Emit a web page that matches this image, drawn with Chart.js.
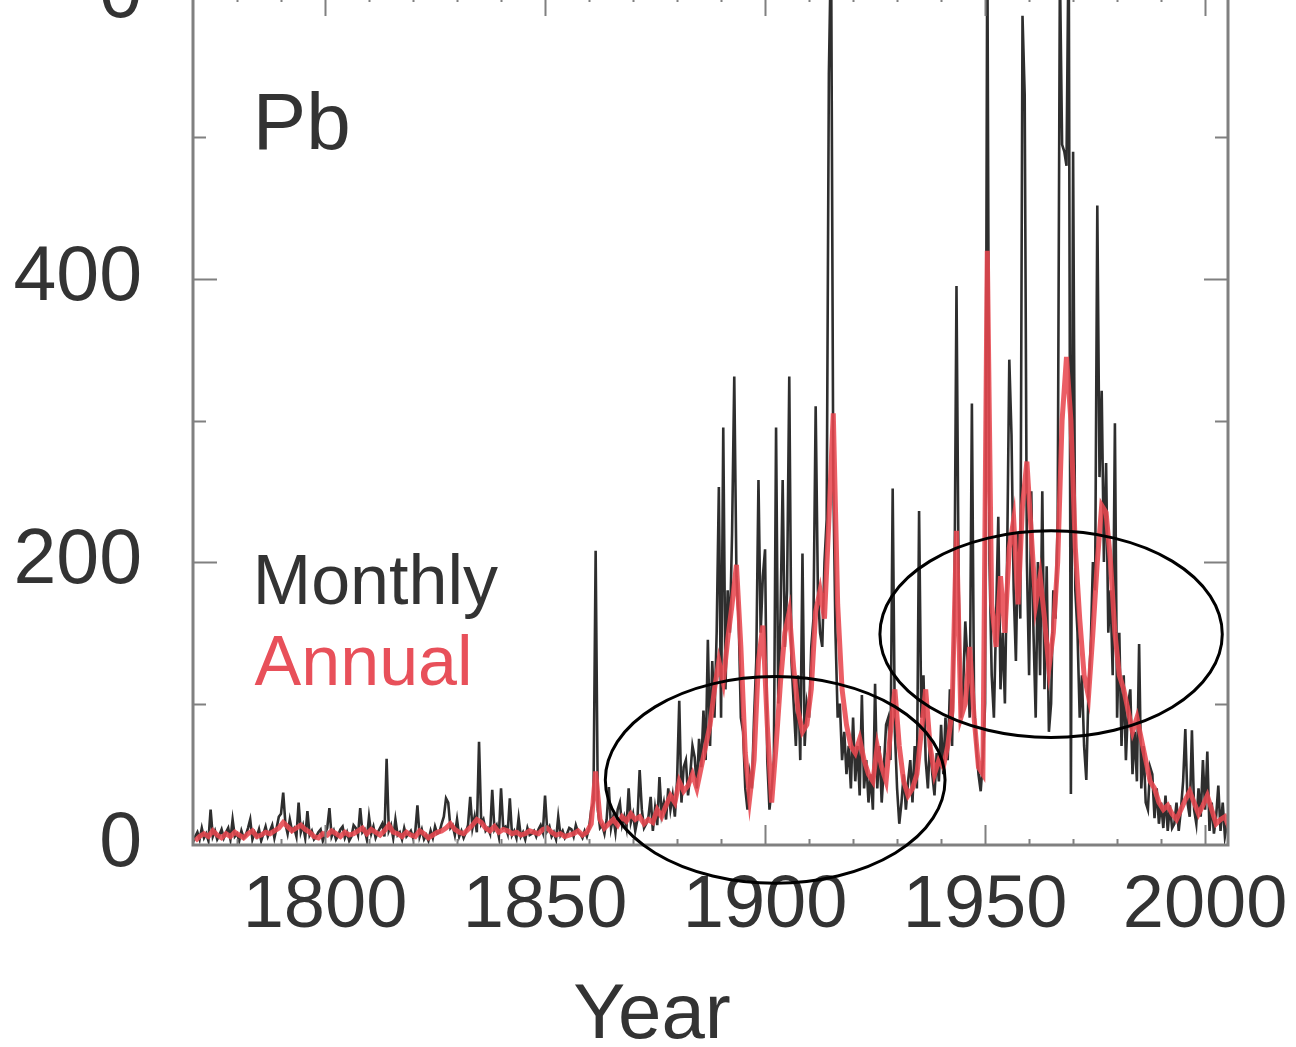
<!DOCTYPE html>
<html>
<head>
<meta charset="utf-8">
<title>Pb</title>
<script src="https://cdn.jsdelivr.net/npm/chart.js@4.4.1/dist/chart.umd.min.js"></script>
<style>
  html, body { margin: 0; padding: 0; background: #fff; overflow: hidden; }
  #wrap { position: absolute; left: 0; top: -60px; width: 1296px; height: 1107px; }
</style>
</head>
<body>
<div id="wrap"><canvas id="pbChart"></canvas></div>
<script>
// axis ticks
const xTicks = [1800, 1850, 1900, 1950, 2000];
const yTicks = [0, 200, 400, 600];

// monthly series, one value every half year from 1770.0
const monthlyStart = 1770;
const monthlyStep = 0.5;
const monthlyPb = [
  2,6, 9,4, 12,5, 8,3, 25,6, 10,4, 7,11, 5,9, 12,4, 18,6,            // 1770s
  8,3, 10,5, 7,12, 18,4, 9,6, 11,3, 8,13, 6,10, 14,5, 12,20,          // 1780s
  22,37, 15,8, 18,10, 12,6, 30,9, 14,5, 24,7, 10,4, 6,9, 11,3,        // 1790s
  8,12, 26,6, 10,4, 7,11, 13,5, 9,3, 6,14, 12,7, 26,9, 11,4,          // 1800s
  20,8, 13,5, 9,12, 15,6, 61,10, 14,5, 18,7, 9,4, 12,6, 8,10,         // 1810s
  5,9, 28,6, 11,4, 7,3, 10,5, 13,8, 9,15, 20,33, 30,12, 14,7,         // 1820s
  18,6, 10,5, 9,14, 34,12, 20,9, 73,15, 18,10, 12,8, 39,11, 14,6,     // 1830s
  40,12, 13,8, 33,7, 10,5, 19,6, 9,4, 12,7, 8,10, 6,11, 14,9,         // 1840s
  35,10, 13,6, 9,4, 20,7, 10,5, 8,12, 11,6, 14,9, 8,5, 10,6,          // 1850s
  12,25, 30,208, 25,12, 14,8, 18,41, 12,20, 9,25, 30,14, 20,12, 40,16, // 1860s
  22,10, 18,53, 25,12, 15,20, 34,10, 26,14, 48,22, 30,18, 40,25, 35,20, // 1870s
  45,102, 30,55, 60,35, 50,70, 62,40, 75,55, 95,60, 145,70, 130,90, 150,253, // 1880s
  90,295, 110,180, 150,220, 331,190, 160,90, 80,40, 25,50, 40,90, 130,258, 150,190, // 1890s
  209,60, 25,40, 60,295, 100,160, 258,140, 180,331, 130,100, 70,120, 60,206, 70,100, // 1900s
  90,140, 160,310, 180,150, 140,200, 230,545, 640,260, 150,90, 100,60, 80,50, 70,40, // 1910s
  90,45, 70,35, 106,40, 60,30, 50,25, 114,40, 70,30, 55,85, 90,60, 252,80,   // 1920s
  40,15, 30,50, 25,45, 60,30, 70,40, 236,90, 120,60, 40,75, 50,35, 65,45,    // 1930s
  85,50, 90,60, 110,70, 160,395, 180,90, 110,158, 130,90, 312,100, 70,50, 38,60, // 1940s
  100,650, 200,120, 90,160, 232,110, 150,100, 200,343, 290,180, 130,220, 160,586, 530,200, // 1950s
  120,250, 150,90, 200,120, 250,110, 197,80, 100,180, 160,230, 620,495, 490,480, 650,36, // 1960s
  490,180, 150,90, 120,70, 46,110, 140,200, 180,452, 260,321, 200,270, 150,180, 120,298, // 1970s
  90,150, 70,120, 60,100, 110,50, 80,45, 142,40, 70,30, 25,55, 50,19, 40,15, // 1980s
  30,12, 35,10, 28,12, 15,30, 10,25, 45,82, 30,20, 81,25, 15,40, 20,60,      // 1990s
  25,66, 10,30, 8,20, 42,10, 30,6, 15                                        // 2000s
];

// annual means, plotted at mid-year from 1770.5
const annualStart = 1770.5;
const annualPb = [
  3,6,8,6,10,7,5,8,6,9,              // 1770s
  7,5,8,10,6,7,9,8,10,12,            // 1780s
  16,13,10,12,14,11,9,6,5,8,         // 1790s
  7,10,8,6,9,7,8,10,12,8,            // 1800s
  11,9,7,10,14,9,8,6,9,7,            // 1810s
  6,10,8,5,7,9,10,12,15,11,          // 1820s
  9,8,11,14,18,16,12,10,13,9,        // 1830s
  11,10,8,9,7,8,10,9,8,11,           // 1840s
  12,9,7,8,6,7,8,10,7,9,             // 1850s
  15,52,18,12,15,18,14,20,17,22,     // 1860s
  18,20,15,18,16,25,20,28,35,30,     // 1870s
  45,38,42,50,40,55,70,85,110,130,   // 1880s
  115,145,170,198,140,65,33,60,130,155, // 1890s
  85,30,70,115,150,165,125,95,80,85, // 1900s
  110,165,180,160,230,305,170,110,85,70, // 1910s
  65,75,60,50,45,70,55,45,80,110,    // 1920s
  70,45,35,40,50,80,110,70,50,60,    // 1930s
  55,70,95,222,90,100,140,90,55,50,  // 1940s
  420,170,140,190,150,210,230,170,240,271, // 1950s
  220,170,190,160,125,150,200,300,345,300, // 1960s
  210,160,120,105,150,200,240,235,200,150, // 1970s
  120,110,95,80,90,75,60,45,40,30,   // 1980s
  25,28,22,18,25,32,38,30,22,28,     // 1990s
  35,25,15,18,20,12                  // 2000s
];

// circled regions (centre year, centre value, half width in years, half height in value)
const circled = [
  { x: 1902.3, y: 46, rx: 38.6, ry: 73 },
  { x: 1965.0, y: 149, rx: 38.9, ry: 73 }
];

const fontFam = '"Liberation Sans", Arial, Helvetica, sans-serif';

const monthlyPts = monthlyPb.map((v, i) => ({ x: monthlyStart + i * monthlyStep, y: v }));
const annualPts = annualPb.map((v, i) => ({ x: annualStart + i, y: v }));

// frame, inward ticks, ellipses and in-plot labels
const decorPlugin = {
  id: 'decor',
  afterDatasetsDraw(chart) {
    const { ctx, chartArea: a } = chart;
    const xs = chart.scales.x, ys = chart.scales.y;
    ctx.save();

    ctx.strokeStyle = '#808080';
    ctx.lineWidth = 2;
    ctx.beginPath();
    for (let yr = 1780; yr <= 2000; yr += 10) {
      const px = Math.round(xs.getPixelForValue(yr)) + 0.5;
      const len = yr % 50 === 0 ? 20 : 6;
      ctx.moveTo(px, a.bottom); ctx.lineTo(px, a.bottom - len);
      ctx.moveTo(px, a.top); ctx.lineTo(px, a.top + len);
    }
    for (let v = 100; v < 600; v += 100) {
      const py = Math.round(ys.getPixelForValue(v)) + 0.5;
      const len = v % 200 === 0 ? 24 : 13;
      ctx.moveTo(a.left, py); ctx.lineTo(a.left + len, py);
      ctx.moveTo(a.right, py); ctx.lineTo(a.right - len, py);
    }
    ctx.stroke();

    ctx.lineWidth = 3;
    ctx.strokeRect(a.left, a.top, a.right - a.left, a.bottom - a.top);

    ctx.strokeStyle = '#000';
    ctx.lineWidth = 3;
    circled.forEach(c => {
      const cx = xs.getPixelForValue(c.x), cy = ys.getPixelForValue(c.y);
      const rx = xs.getPixelForValue(c.x + c.rx) - cx;
      const ry = cy - ys.getPixelForValue(c.y + c.ry);
      ctx.beginPath();
      ctx.ellipse(cx, cy, rx, ry, 0, 0, Math.PI * 2);
      ctx.stroke();
    });

    ctx.textAlign = 'left';
    ctx.textBaseline = 'alphabetic';
    ctx.fillStyle = '#333';
    ctx.font = '80px ' + fontFam;
    ctx.fillText('Pb', xs.getPixelForValue(1783.6), ys.getPixelForValue(492));
    ctx.font = '70px ' + fontFam;
    ctx.fillText('Monthly', xs.getPixelForValue(1783.6), ys.getPixelForValue(170));
    ctx.fillStyle = '#e8505a';
    ctx.fillText('Annual', xs.getPixelForValue(1784), ys.getPixelForValue(113));

    // axis title, set left of the plot centre as in the source figure
    ctx.fillStyle = '#333';
    ctx.textAlign = 'center';
    ctx.font = '78px ' + fontFam;
    ctx.fillText('Year', xs.getPixelForValue(1874.3), a.bottom + 193);
    ctx.restore();
  }
};

const ctx = document.getElementById('pbChart').getContext('2d');
const pbChart = new Chart(ctx, {
  type: 'line',
  data: {
    datasets: [
      {
        label: 'Annual',
        data: annualPts,
        borderColor: 'rgba(232, 72, 80, 0.88)',
        borderWidth: 5,
        pointRadius: 0,
        tension: 0
      },
      {
        label: 'Monthly',
        data: monthlyPts,
        borderColor: '#2e2e2e',
        borderWidth: 2.6,
        pointRadius: 0,
        tension: 0
      }
    ]
  },
  options: {
    responsive: true,
    maintainAspectRatio: false,
    devicePixelRatio: 1,
    animation: false,
    events: [],
    layout: { padding: { top: 56, right: 68, left: 0, bottom: 0 } },
    plugins: { legend: { display: false }, tooltip: { enabled: false } },
    scales: {
      x: {
        type: 'linear',
        min: 1770,
        max: 2005.2,
        grid: { display: false, drawTicks: false },
        border: { display: false },
        afterBuildTicks: s => { s.ticks = xTicks.map(v => ({ value: v })); },
        afterFit: s => { s.height = 202; s.paddingLeft = 0; s.paddingRight = 0; },
        ticks: {
          padding: 25,
          color: '#333',
          maxRotation: 0,
          autoSkip: false,
          font: { family: fontFam, size: 74, lineHeight: 1 },
          callback: v => String(v)
        }
      },
      y: {
        min: 0,
        max: 600,
        grid: { display: false, drawTicks: false },
        border: { display: false },
        afterBuildTicks: s => { s.ticks = yTicks.map(v => ({ value: v })); },
        afterFit: s => { s.width = 193; s.paddingTop = 0; s.paddingBottom = 0; },
        ticks: {
          padding: 51,
          color: '#333',
          autoSkip: false,
          font: { family: fontFam, size: 77, lineHeight: 1 },
          // the top edge is shared with the panel above, whose zero sits there
          callback: v => (v === 600 ? '0' : String(v))
        }
      }
    }
  },
  plugins: [decorPlugin]
});
</script>
</body>
</html>
